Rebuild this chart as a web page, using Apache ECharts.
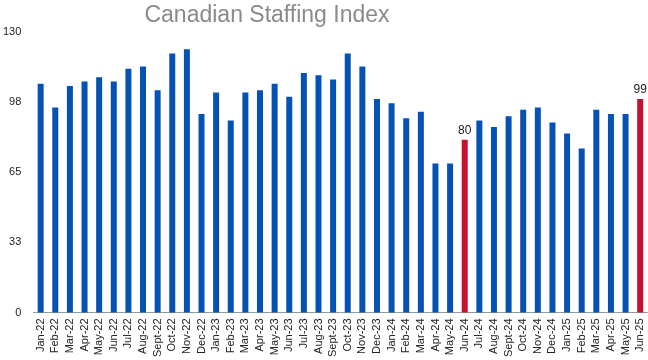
<!DOCTYPE html>
<html>
<head>
<meta charset="utf-8">
<script src="https://cdn.jsdelivr.net/npm/echarts@6/dist/echarts.min.js"></script>
<style>html,body{margin:0;padding:0;background:#fff;}#c{width:648px;height:360px;}</style>
</head>
<body>
<div id="c"></div>
<script>
const categories = ["Jan-22","Feb-22","Mar-22","Apr-22","May-22","Jun-22","Jul-22","Aug-22","Sept-22","Oct-22","Nov-22","Dec-22",
  "Jan-23","Feb-23","Mar-23","Apr-23","May-23","Jun-23","Jul-23","Aug-23","Sept-23","Oct-23","Nov-23","Dec-23",
  "Jan-24","Feb-24","Mar-24","Apr-24","May-24","Jun-24","Jul-24","Aug-24","Sept-24","Oct-24","Nov-24","Dec-24",
  "Jan-25","Feb-25","Mar-25","Apr-25","May-25","Jun-25"];
const values = [106,95,105,107,109,107,113,114,103,120,122,92,
  102,89,102,103,106,100,111,110,108,120,114,99,
  97,90,93,69,69,80,89,86,91,94,95,88,
  83,76,94,92,92,99];
const highlighted = ["Jun-24","Jun-25"];
const yTicks = [0,32.5,65,97.5,130];

const blue = '#0552b5', red = '#c5102f';
const data = values.map((v,i)=>{
  const hi = highlighted.includes(categories[i]);
  return {
    value: v,
    itemStyle: {color: hi ? red : blue},
    label: {show: hi, position: 'top', distance: 3, color: '#222', fontSize: 12, fontFamily: 'Liberation Sans'}
  };
});

const chart = echarts.init(document.getElementById('c'));
chart.setOption({
  animation: false,
  title: {
    text: 'Canadian Staffing Index',
    left: 262, top: -1, textAlign: 'center',
    textStyle: {color: '#8a8a8a', fontSize: 23, fontWeight: 'normal', fontFamily: 'Liberation Sans'}
  },
  grid: {left: 33, right: 0.5, top: 32, bottom: 46.5, containLabel: false},
  xAxis: {
    type: 'category', data: categories,
    axisLine: {show: true, lineStyle: {color: '#999', width: 1}},
    axisTick: {show: false},
    axisLabel: {rotate: 90, interval: 0, margin: 6, color: '#222', fontSize: 11, fontFamily: 'Liberation Sans'}
  },
  yAxis: {
    type: 'value', min: yTicks[0], max: yTicks[yTicks.length-1], interval: yTicks[1]-yTicks[0],
    splitLine: {show: false}, axisLine: {show: false}, axisTick: {show: false},
    axisLabel: {margin: 12, color: '#222', fontSize: 11, fontFamily: 'Liberation Sans',
      formatter: v => String(Math.round(v))}
  },
  series: [{type: 'bar', data: data, barWidth: 6}]
});
</script>
</body>
</html>
